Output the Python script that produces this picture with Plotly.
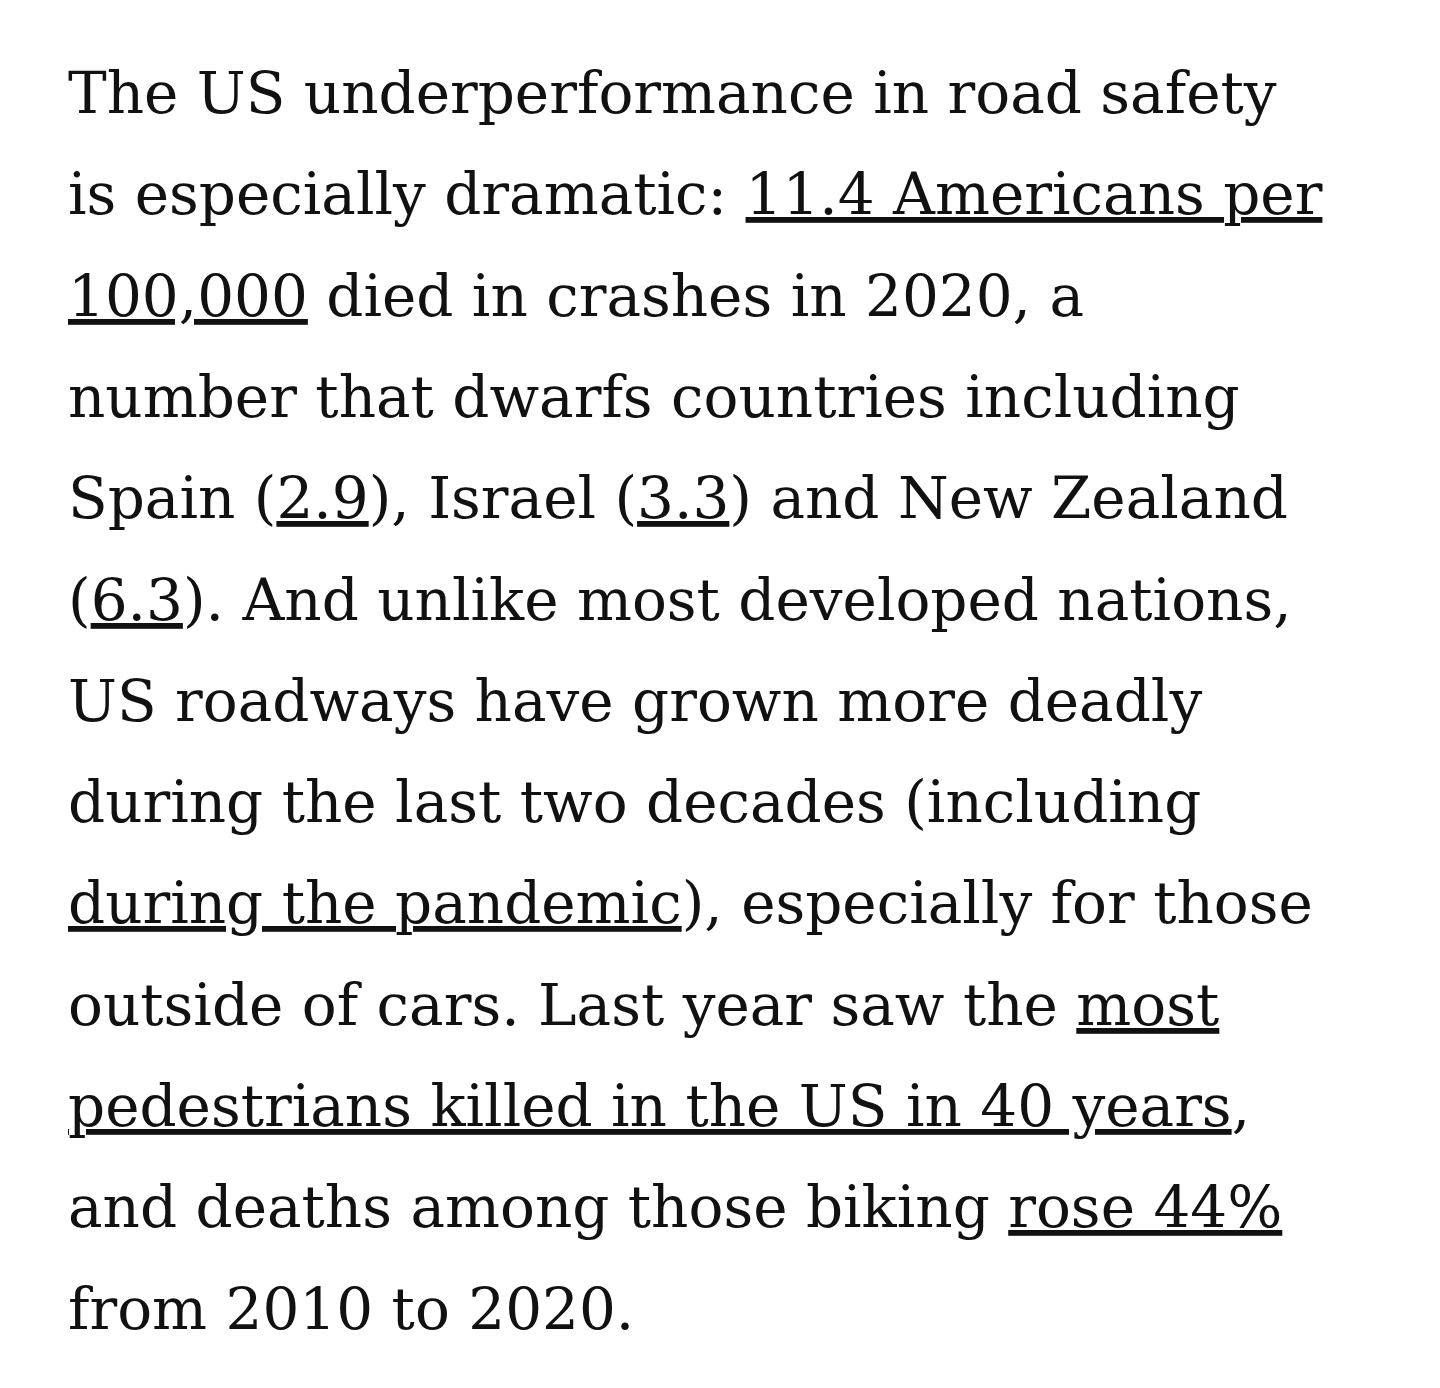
import plotly.graph_objects as go

U = "<span style='text-decoration:underline;text-decoration-color:#8a8a8a'>"
E = "</span>"

lines = [
    "The US underperformance in road safety",
    f"is especially dramatic: {U}11.4 Americans per{E}",
    f"{U}100,000{E} died in crashes in 2020, a",
    "number that dwarfs countries including",
    f"Spain ({U}2.9{E}), Israel ({U}3.3{E}) and New Zealand",
    f"({U}6.3{E}). And unlike most developed nations,",
    "US roadways have grown more deadly",
    "during the last two decades (including",
    f"{U}during the pandemic{E}), especially for those",
    f"outside of cars. Last year saw the {U}most{E}",
    f"{U}pedestrians killed in the US in 40 years{E},",
    f"and deaths among those biking {U}rose 44%{E}",
    "from 2010 to 2020.",
]

W, H = 1440, 1388
first_center = 85
step = 101.3

fig = go.Figure()
for i, txt in enumerate(lines):
    fig.add_annotation(
        text=txt, x=58 / W, y=1 - (first_center + i * step) / H,
        xref="paper", yref="paper", xanchor="left", yanchor="middle",
        showarrow=False, align="left",
        font=dict(family="DejaVu Serif", size=58, color="#111111"),
    )

fig.update_layout(
    width=W, height=H, margin=dict(l=0, r=0, t=0, b=0),
    paper_bgcolor="white", plot_bgcolor="white",
    xaxis=dict(visible=False), yaxis=dict(visible=False),
)
fig.write_html("out.html")
